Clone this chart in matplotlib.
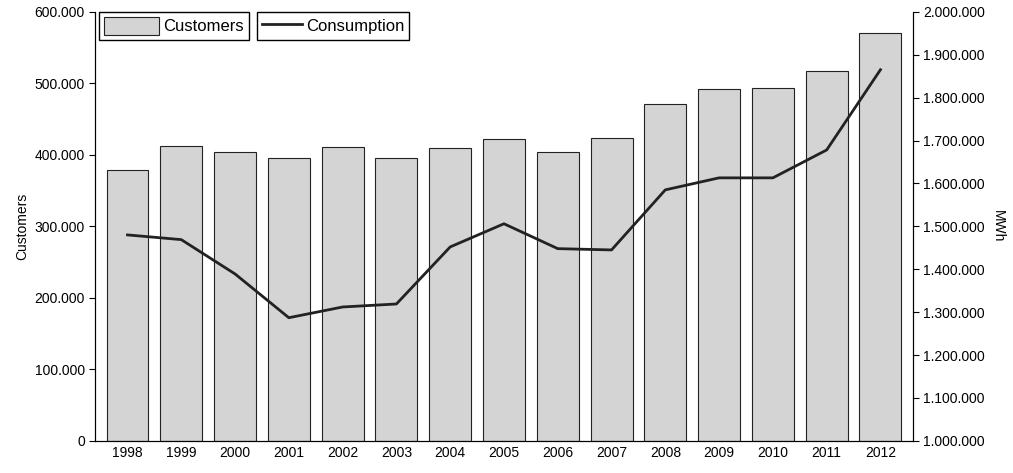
import matplotlib.pyplot as plt
import numpy as np
from matplotlib.ticker import FuncFormatter, MultipleLocator

plt.rcParams['font.family'] = ['Liberation Sans', 'DejaVu Sans']

years = ['1998', '1999', '2000', '2001', '2002', '2003', '2004', '2005',
         '2006', '2007', '2008', '2009', '2010', '2011', '2012']
customers = [379000, 412000, 404000, 396000, 411000, 396000, 410000, 422000,
             404000, 424000, 471000, 492000, 494000, 517000, 570000]
consumption = [1480000, 1469000, 1389000, 1287000, 1312000, 1319000, 1452000, 1506000,
               1448000, 1445000, 1585000, 1613000, 1613000, 1678000, 1865000]

def fmt(v, pos):
    if v == 0:
        return '0'
    return '{:,}'.format(int(round(v))).replace(',', '.')

fig = plt.figure(figsize=(10.13, 4.73), dpi=100)
ax = fig.add_axes([0.094, 0.068, 0.807, 0.907])
x = np.arange(len(years))
bars = ax.bar(x, customers, width=0.78, color='#d4d4d4', edgecolor='#222222', linewidth=0.8)
ax.set_ylim(0, 600000)
ax.set_xlim(-0.6, len(years) - 0.4)
ax.set_xticks(x)
ax.set_xticklabels(years)
ax.yaxis.set_major_formatter(FuncFormatter(fmt))
ax.set_ylabel('Customers', fontsize=10)
ax.tick_params(axis='x', length=0, labelsize=10)
ax.tick_params(axis='y', labelsize=10, length=4)
ax.spines['top'].set_visible(False)

ax2 = ax.twinx()
line, = ax2.plot(x, consumption, color='#222222', linewidth=2)
ax2.set_ylim(1000000, 2000000)
ax2.yaxis.set_major_locator(MultipleLocator(100000))
ax2.yaxis.set_major_formatter(FuncFormatter(fmt))
ax2.set_ylabel('MWh', rotation=270, labelpad=14, fontsize=10)
ax2.tick_params(axis='y', labelsize=10, length=4)
ax2.spines['top'].set_visible(False)

common = dict(loc='upper left', fancybox=False, edgecolor='black', framealpha=1,
              fontsize=12, borderaxespad=0, handleheight=1.3, borderpad=0.3,
              handletextpad=0.25)
fig.legend([bars], ['Customers'], bbox_to_anchor=(0.098, 0.975),
           handlelength=3.3, **common)
fig.legend([line], ['Consumption'], bbox_to_anchor=(0.2535, 0.975),
           handlelength=2.4, **common)

fig.savefig('out.png', dpi=100)
